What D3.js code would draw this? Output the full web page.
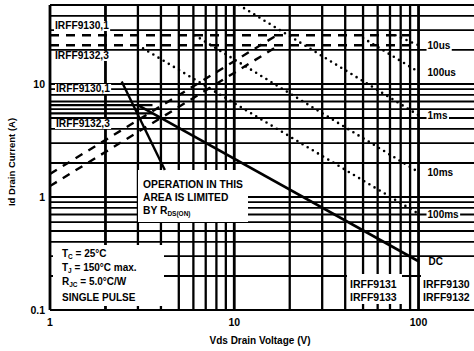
<!DOCTYPE html>
<html><head><meta charset="utf-8">
<script src="https://cdn.jsdelivr.net/npm/d3@7"></script>
<style>
body{margin:0;background:#fff}
svg{display:block}
text{font-family:"Liberation Sans",Arial,sans-serif;font-weight:bold;fill:#000}
</style>
</head><body><svg id="c" width="474" height="351"></svg>
<script>
// ---- data ----
const xTickValues = [1, 10, 100];
const xTickLabels = ["1", "10", "100"];
const yTickValues = [0.1, 1, 10];
const yTickLabels = ["0.1", "1", "10"];
const xGridValues = [2,3,4,5,6,7,8,9,10,20,30,40,50,60,70,80,90,100];
const yGridValues = [0.2,0.3,0.4,0.5,0.6,0.7,0.8,0.9,1,2,3,4,5,6,7,8,9,10,20,30,40];
const pulseCurrentLimits = [27, 22];          // IRFF9130,1 ; IRFF9132,3 (pulsed)
const dcCurrentLimits = [6.5, 5.5];           // IRFF9130,1 ; IRFF9132,3 (DC)
const rdsLineV = [[1, 17], [1, 17.5]];
const rdsLineI = [[1.6, 27], [1.25, 22]];
const dcLineV = [3.0, 100];
const dcLineI = [6.5, 0.27];
const pulseNames = ["10us", "100us", "1ms", "10ms", "100ms"];
const pulseStartV = [75, 50, 10.6, 6.1, 3.0];
const pulseStartI = [27, 25.5, 50, 27, 22];
const pulseEndV = [100, 100, 100, 100, 100];
const pulseEndI = [22, 12.8, 5.3, 1.66, 0.71];
const xTitle = "Vds Drain Voltage (V)";
const yTitle = "Id Drain Current (A)";

// ---- layout ----
const svg = d3.select("#c");
const L = 50, R = 474, T = 5, B = 310;
const x = d3.scaleLog().domain([1, 200]).range([L, R]);
const y = d3.scaleLog().domain([0.1, 50]).range([B, T]);

const defs = svg.append("defs");
defs.append("clipPath").attr("id","clip").append("rect")
  .attr("x", L).attr("y", T).attr("width", R - L).attr("height", B - T);

const g = svg.append("g").attr("clip-path", "url(#clip)");

// grid
g.selectAll("line.vg").data(xGridValues).enter().append("line")
  .attr("x1", d => x(d)).attr("x2", d => x(d)).attr("y1", T).attr("y2", B)
  .attr("stroke", "#000").attr("stroke-width", d => (d === 10 || d === 100 || d === 2) ? 2.8 : 2.3);
g.selectAll("line.hg").data(yGridValues).enter().append("line")
  .attr("x1", L).attr("x2", R).attr("y1", d => y(d)).attr("y2", d => y(d))
  .attr("stroke", "#000").attr("stroke-width", 1.8);

// pulsed current limits (dashed)
g.selectAll("line.pl").data(pulseCurrentLimits).enter().append("line")
  .attr("x1", L).attr("x2", x(100)).attr("y1", d => y(d)).attr("y2", d => y(d))
  .attr("stroke", "#000").attr("stroke-width", 2.4).attr("stroke-dasharray", "9,7");

// DC current limits (solid)
g.selectAll("line.dl").data(dcCurrentLimits).enter().append("line")
  .attr("x1", L).attr("x2", x(3.6)).attr("y1", d => y(d)).attr("y2", d => y(d))
  .attr("stroke", "#000").attr("stroke-width", 2.2);

const line = d3.line().x(d => x(d[0])).y(d => y(d[1]));

// Rds(on) limit lines (dashed)
rdsLineV.forEach((vs, i) => {
  g.append("path").attr("d", line(vs.map((v, j) => [v, rdsLineI[i][j]])))
    .attr("fill", "none").attr("stroke", "#000").attr("stroke-width", 2.4)
    .attr("stroke-dasharray", "8,7");
});

// pulse lines (dotted)
pulseNames.forEach((n, i) => {
  g.append("path").attr("d", line([[pulseStartV[i], pulseStartI[i]], [pulseEndV[i], pulseEndI[i]]]))
    .attr("fill", "none").attr("stroke", "#000").attr("stroke-width", 2.6)
    .attr("stroke-linecap", "round").attr("stroke-dasharray", "0,6");
});

// DC line
g.append("path").attr("d", line(dcLineV.map((v, j) => [v, dcLineI[j]])))
  .attr("fill", "none").attr("stroke", "#000").attr("stroke-width", 2.6);

// frame
svg.append("line").attr("x1", L).attr("x2", L).attr("y1", T).attr("y2", B).attr("stroke", "#000").attr("stroke-width", 2.8);
svg.append("line").attr("x1", L).attr("x2", R).attr("y1", T).attr("y2", T).attr("stroke", "#000").attr("stroke-width", 2.2);
svg.append("line").attr("x1", L).attr("x2", R).attr("y1", B).attr("y2", B).attr("stroke", "#000").attr("stroke-width", 2.2);

// white boxes
function wbox(x0, y0, x1, y1) {
  svg.append("rect").attr("x", x0).attr("y", y0).attr("width", x1 - x0).attr("height", y1 - y0).attr("fill", "#fff");
}
wbox(138, 170, 248, 222);   // annotation
wbox(53, 245, 164, 306);    // conditions
wbox(347, 274, 402, 304);   // IRFF9131/3
wbox(421, 274, 474, 304);   // IRFF9130/2

// pointer line from annotation
svg.append("line").attr("x1", x(4.2)).attr("y1", y(1.73)).attr("x2", x(2.45)).attr("y2", y(10.5))
  .attr("stroke", "#000").attr("stroke-width", 2.4);

// text helper with white background
function label(txt, px, py, opts = {}) {
  const t = svg.append("text").attr("x", px).attr("y", py)
    .attr("font-size", opts.size || 10).attr("text-anchor", opts.anchor || "start").text(txt);
  if (opts.bg) {
    const b = t.node().getBBox();
    svg.insert("rect", "text").attr("x", b.x - 1).attr("y", b.y + 1).attr("width", b.width + 2)
      .attr("height", b.height - 1).attr("fill", "#fff");
  }
  return t;
}

// part labels at left
label("IRFF9130,1", 55, 29, {bg: true, size: 10.2});
label("IRFF9132,3", 55, 59, {bg: true, size: 10.2});
label("IRFF9130,1", 56, 92, {bg: true, size: 10.2});
label("IRFF9132,3", 56, 127, {bg: true, size: 10.2});

// pulse labels at right
pulseNames.forEach((n, i) => {
  label(n, x(100) + 9, y(pulseEndI[i]) + 4, {bg: true});
});
label("DC", x(100) + 10, y(dcLineI[1]) + 4, {bg: true});

// part labels bottom right
label("IRFF9131", 350, 288, {size: 10.5});
label("IRFF9133", 350, 301, {size: 10.5});
label("IRFF9130", 423, 288, {size: 10.5});
label("IRFF9132", 423, 301, {size: 10.5});

// annotation text
label("OPERATION IN THIS", 143, 188, {size: 10.3});
label("AREA IS LIMITED", 143, 201, {size: 10.3});
const t3 = label("BY R", 143, 214, {size: 10.3});
t3.append("tspan").attr("font-size", 6.5).attr("dy", 2).text("DS(ON)");

// conditions
function cond(main, sub, rest, py) {
  const t = svg.append("text").attr("x", 62).attr("y", py).attr("font-size", 10).text(main);
  if (sub) {
    t.append("tspan").attr("font-size", 6.5).attr("dy", 2).text(sub);
    t.append("tspan").attr("dy", -2).text(rest);
  }
}
cond("T", "C", " = 25°C", 257);
cond("T", "J", " = 150°C max.", 271);
cond("R", "JC", " = 5.0°C/W", 285);
cond("SINGLE PULSE", null, null, 301);

// ticks
xTickValues.forEach((v, i) => label(xTickLabels[i], x(v), 326, {anchor: "middle", size: 10.5}));
yTickValues.forEach((v, i) => label(yTickLabels[i], 45, y(v) + 4, {anchor: "end", size: 10.5}));

// titles
label(xTitle, 260, 344, {anchor: "middle", size: 10});
svg.append("text").attr("transform", `translate(15,${162}) rotate(-90)`)
  .attr("text-anchor", "middle").attr("font-size", 9.5).text(yTitle);
</script>
</body></html>
